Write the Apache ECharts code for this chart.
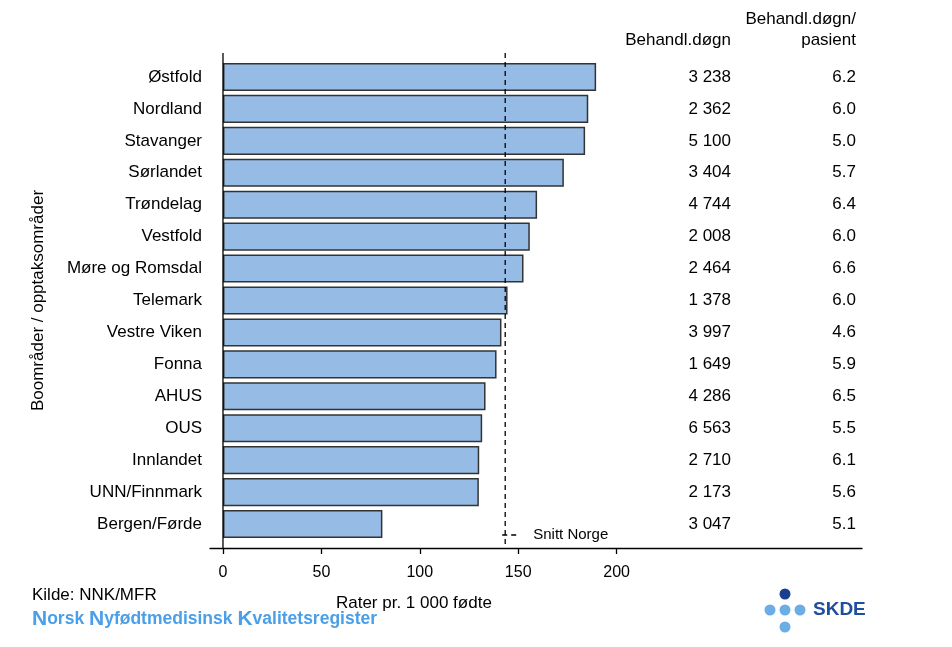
<!DOCTYPE html>
<html>
<head>
<meta charset="utf-8">
<script src="https://cdn.jsdelivr.net/npm/echarts@6/dist/echarts.min.js"></script>
<style>html,body{margin:0;padding:0;background:#fff}#c{width:952px;height:647px}</style>
</head>
<body>
<div id="c"></div>
<script>
const categories = ['Østfold','Nordland','Stavanger','Sørlandet','Trøndelag','Vestfold','Møre og Romsdal','Telemark','Vestre Viken','Fonna','AHUS','OUS','Innlandet','UNN/Finnmark','Bergen/Førde'];
const rates = [189.6, 185.6, 184.0, 173.2, 159.6, 155.9, 152.7, 144.6, 141.5, 139.0, 133.4, 131.7, 130.2, 130.0, 81.0];
const behandlDogn = [3238, 2362, 5100, 3404, 4744, 2008, 2464, 1378, 3997, 1649, 4286, 6563, 2710, 2173, 3047];
const dognPerPasient = [6.2, 6.0, 5.0, 5.7, 6.4, 6.0, 6.6, 6.0, 4.6, 5.9, 6.5, 5.5, 6.1, 5.6, 5.1];
const snittNorge = 143.4;
const xTicks = [0, 50, 100, 150, 200];

const FONT = 'Liberation Sans, Arial, sans-serif';
const fmtThousands = n => String(n).replace(/\B(?=(\d{3})+(?!\d))/g, ' ');

const chart = echarts.init(document.getElementById('c'), null, {renderer: 'canvas'});

const option = {
  backgroundColor: '#fff',
  animation: false,
  textStyle: {fontFamily: FONT},
  grid: {left: 210, right: 90, top: 61, bottom: 107, containLabel: false},
  xAxis: {
    type: 'value', min: -6.6, max: 324.7, offset: 8,
    axisLine: {show: true, onZero: false, lineStyle: {color: '#000', width: 1.3}},
    axisTick: {show: true, customValues: xTicks, length: 6, lineStyle: {color: '#000', width: 1.3}},
    axisLabel: {customValues: xTicks, fontSize: 16, color: '#000', margin: 17, fontFamily: FONT},
    splitLine: {show: false}
  },
  yAxis: [
    {
      type: 'category', data: categories, inverse: true,
      axisLine: {show: false, onZero: false}, axisTick: {show: false},
      axisLabel: {fontSize: 17, color: '#000', margin: 8, fontFamily: FONT},
      name: 'Boområder / opptaksområder', nameLocation: 'middle', nameGap: 163,
      nameTextStyle: {fontSize: 17, color: '#000', fontFamily: FONT}
    },
    {
      type: 'category', data: categories, inverse: true, position: 'right', offset: -131,
      axisLine: {show: false}, axisTick: {show: false},
      axisLabel: {align: 'right', margin: 0, fontSize: 17, color: '#000', fontFamily: FONT,
        formatter: (v, i) => fmtThousands(behandlDogn[i])}
    },
    {
      type: 'category', data: categories, inverse: true, position: 'right', offset: -6,
      axisLine: {show: false}, axisTick: {show: false},
      axisLabel: {align: 'right', margin: 0, fontSize: 17, color: '#000', fontFamily: FONT,
        formatter: (v, i) => dognPerPasient[i].toFixed(1)}
    }
  ],
  series: [{
    type: 'bar', data: rates, yAxisIndex: 0, barCategoryGap: '12%',
    itemStyle: {color: '#96BBE5', borderColor: '#333', borderWidth: 1.5}
  }]
};
chart.setOption(option);

const x0 = chart.convertToPixel({xAxisIndex: 0}, 0);
const xs = chart.convertToPixel({xAxisIndex: 0}, snittNorge);
const xLab = chart.convertToPixel({xAxisIndex: 0}, 97);

chart.setOption({
  graphic: [
    {type: 'line', shape: {x1: x0, y1: 53, x2: x0, y2: 548}, style: {stroke: '#000', lineWidth: 1.3}, z: 10},
    {type: 'line', shape: {x1: xs, y1: 53, x2: xs, y2: 548}, style: {stroke: '#000', lineWidth: 1.3, lineDash: [5, 4]}, z: 10},
    {type: 'line', shape: {x1: xs - 3, y1: 535, x2: xs + 12, y2: 535}, style: {stroke: '#000', lineWidth: 1.3, lineDash: [5, 4]}, z: 10},
    {type: 'text', x: xs + 28, y: 535, style: {text: 'Snitt Norge', font: '15px ' + FONT, fill: '#000', textVerticalAlign: 'middle'}},
    {type: 'text', x: 731, y: 40, style: {text: 'Behandl.døgn', font: '17px ' + FONT, fill: '#000', textAlign: 'right', textVerticalAlign: 'middle'}},
    {type: 'text', x: 856, y: 19, style: {text: 'Behandl.døgn/', font: '17px ' + FONT, fill: '#000', textAlign: 'right', textVerticalAlign: 'middle'}},
    {type: 'text', x: 856, y: 40, style: {text: 'pasient', font: '17px ' + FONT, fill: '#000', textAlign: 'right', textVerticalAlign: 'middle'}},
    {type: 'text', x: xLab, y: 603, style: {text: 'Rater pr. 1 000 fødte', font: '17px ' + FONT, fill: '#000', textAlign: 'center', textVerticalAlign: 'middle'}},
    {type: 'text', x: 32, y: 595, style: {text: 'Kilde: NNK/MFR', font: '17px ' + FONT, fill: '#000', textVerticalAlign: 'middle'}},
    {type: 'text', x: 32, y: 619, style: {
      text: '{b|N}{s|orsk }{b|N}{s|yfødtmedisinsk }{b|K}{s|valitetsregister}',
      textVerticalAlign: 'middle',
      fill: '#4A9FE8',
      rich: {
        b: {fontSize: 21, fontFamily: FONT, fill: '#4A9FE8', fontWeight: 'bold'},
        s: {fontSize: 17.5, fontFamily: FONT, fill: '#4A9FE8', fontWeight: 'bold'}
      }
    }},
    {type: 'circle', shape: {cx: 785, cy: 594, r: 5.5}, style: {fill: '#1B3F8F'}},
    {type: 'circle', shape: {cx: 770, cy: 610, r: 5.5}, style: {fill: '#6CADE6'}},
    {type: 'circle', shape: {cx: 785, cy: 610, r: 5.5}, style: {fill: '#6CADE6'}},
    {type: 'circle', shape: {cx: 800, cy: 610, r: 5.5}, style: {fill: '#6CADE6'}},
    {type: 'circle', shape: {cx: 785, cy: 627, r: 5.5}, style: {fill: '#6CADE6'}},
    {type: 'text', x: 813, y: 610, style: {text: 'SKDE', font: 'bold 19px ' + FONT, fill: '#1F4E9E', textVerticalAlign: 'middle'}}
  ]
});
</script>
</body>
</html>
